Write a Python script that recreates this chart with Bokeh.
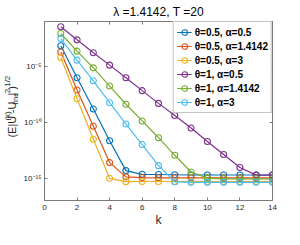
from bokeh.plotting import figure
from bokeh.layouts import row
from bokeh.models import (Label, LinearAxis, LogAxis, FixedTicker, CustomJSTickFormatter,
                          Legend, LegendItem, Range1d, Title)
from bokeh.embed import file_html
from bokeh.resources import INLINE

# ---------------- data ----------------
k = [1, 2, 3, 4, 5, 6, 7, 8, 9, 10, 11, 12, 13, 14]

series_labels = ["θ=0.5, α=0.5", "θ=0.5, α=1.4142", "θ=0.5, α=3",
                 "θ=1, α=0.5", "θ=1, α=1.4142", "θ=1, α=3"]

err_t05_a05 = [6.9e-4, 9.3e-7, 1.5e-9, 2.2e-12, 4.7e-15, 2.2e-15, 2.1e-15,
               2.0e-15, 1.9e-15, 1.9e-15, 1.9e-15, 1.9e-15, 1.9e-15, 1.9e-15]
err_t05_a14 = [1.86e-4, 7.6e-8, 4.3e-11, 2.45e-14, 1.3e-15, 1.12e-15, 1.07e-15,
               1.07e-15, 1.07e-15, 1.07e-15, 1.07e-15, 1.07e-15, 1.07e-15, 1.07e-15]
err_t05_a3 = [6.0e-5, 1.23e-8, 3.0e-12, 9.6e-16, 4.8e-16, 5.0e-16, 5.0e-16,
              5.0e-16, 5.0e-16, 5.0e-16, 5.0e-16, 5.0e-16, 5.0e-16, 5.0e-16]
err_t1_a05 = [3.4e-2, 2.3e-3, 1.6e-4, 1.26e-5, 9.3e-7, 6.6e-8, 4.8e-9,
              4.0e-10, 3.0e-11, 1.9e-12, 1.3e-13, 8.9e-15, 1.86e-15, 1.86e-15]
err_t1_a14 = [8.5e-3, 2.24e-4, 7.2e-6, 1.7e-7, 4.0e-9, 1.29e-10, 4.1e-12,
              1.1e-13, 3.5e-15, 1.0e-15, 8.7e-16, 8.7e-16, 8.7e-16, 8.7e-16]
err_t1_a3 = [2.95e-3, 3.5e-5, 5.0e-7, 5.5e-9, 6.8e-11, 1.0e-12, 1.3e-14,
             4.7e-16, 4.2e-16, 4.2e-16, 4.2e-16, 4.2e-16, 4.2e-16, 4.2e-16]

series_values = [err_t05_a05, err_t05_a14, err_t05_a3, err_t1_a05, err_t1_a14, err_t1_a3]
colors = ["#0072BD", "#D95319", "#EDB120", "#7E2F8E", "#77AC30", "#4DBEEE"]

x_ticks = [0, 2, 4, 6, 8, 10, 12, 14]
y_ticks = [1e-15, 1e-10, 1e-5]

title_text = "λ =1.4142, T =20"
x_label_text = "k"
# y label pieces: (text, font px, position: 0 normal, 1 superscript, -1 subscript)
y_label_parts = [("(E|U", 11, 0), ("(k)", 8, 1), ("-U", 11, 0), ("fine", 7, -1),
                 ("|", 11, 0), ("2", 8, 1), (")", 11, 0), ("1/2", 8, 1)]

FONT = "Liberation Sans"
AX = "#7a7a7a"
TXT = "#262626"

H = 229
LW = 20                      # width of the strip holding the y-axis label
W = 284 - LW
BL, BR, BT, BB = 23, 12, 19, 27
FH = H - BT - BB

# ---------------- main figure ----------------
p = figure(width=W, height=H, x_range=Range1d(0, 14), y_range=Range1d(1e-17, 1e-1),
           y_axis_type="log", output_backend="svg", toolbar_location=None,
           min_border_left=BL, min_border_right=BR, min_border_top=BT, min_border_bottom=BB)
p.grid.visible = False
p.outline_line_color = AX
p.outline_line_width = 1
p.background_fill_color = "white"
p.border_fill_color = "white"

p.title = Title(text=title_text, align="center", text_font=FONT, text_font_size="12px",
                text_font_style="normal", text_color="#000000", standoff=5)

renderers = []
for vals, c in zip(series_values, colors):
    l = p.line(k, vals, line_color=c, line_width=1.2)
    s = p.scatter(k, vals, marker="circle", size=6, fill_color=None, line_color=c, line_width=1.1)
    renderers.append([l, s])

sup_js = """
const m = {"-":"\u207b","0":"\u2070","1":"\u00b9","2":"\u00b2","3":"\u00b3","4":"\u2074",
           "5":"\u2075","6":"\u2076","7":"\u2077","8":"\u2078","9":"\u2079"};
const e = Math.round(Math.log10(tick));
return "10" + String(e).split("").map(c => m[c]).join("");
"""

def style_axis(ax, show_labels):
    ax.axis_line_color = AX
    ax.major_tick_line_color = AX
    ax.minor_tick_line_color = None
    ax.major_tick_in = 3
    ax.major_tick_out = 0
    ax.major_label_text_font = FONT
    ax.major_label_text_font_size = "8px"
    ax.major_label_text_color = TXT
    if not show_labels:
        ax.formatter = CustomJSTickFormatter(code="return '';")
        ax.major_label_standoff = 0
        ax.major_label_text_font_size = "0px"

xa = p.xaxis[0]
xa.ticker = FixedTicker(ticks=x_ticks)
style_axis(xa, True)
xa.major_label_standoff = 4
xa.axis_label = x_label_text
xa.axis_label_text_font = FONT
xa.axis_label_text_font_size = "12px"
xa.axis_label_text_font_style = "normal"
xa.axis_label_text_color = TXT
xa.axis_label_standoff = 0

ya = p.yaxis[0]
ya.ticker = FixedTicker(ticks=y_ticks)
ya.formatter = CustomJSTickFormatter(code=sup_js)
style_axis(ya, True)
ya.major_label_standoff = 3

top = LinearAxis(ticker=FixedTicker(ticks=x_ticks))
style_axis(top, False)
p.add_layout(top, "above")
right = LogAxis(ticker=FixedTicker(ticks=y_ticks))
style_axis(right, False)
p.add_layout(right, "right")

# ---------------- legend ----------------
items = [LegendItem(label=lab, renderers=r) for lab, r in zip(series_labels, renderers)]
leg = Legend(items=items, location="top_right", margin=0, padding=3, spacing=0,
             glyph_width=15, glyph_height=14, label_height=14, label_standoff=3,
             label_text_font=FONT, label_text_font_size="10px", label_text_color="#000000",
             label_text_font_style="bold",
             border_line_color="#8a8a8a", border_line_width=1, background_fill_alpha=1)
p.add_layout(leg, "center")

# ---------------- y-axis label strip ----------------
# its frame covers the whole strip; data units equal pixels (y measured from the top)
q = figure(width=LW, height=H, x_range=Range1d(0, LW), y_range=Range1d(H, 0),
           output_backend="svg", toolbar_location=None,
           x_axis_location=None, y_axis_location=None,
           min_border_left=0, min_border_right=0, min_border_top=0, min_border_bottom=0)
q.grid.visible = False
q.outline_line_color = None
q.background_fill_color = "white"
q.border_fill_color = "white"

adv = {"(": 333, ")": 333, "E": 667, "|": 260, "U": 722, "k": 500, "-": 333, "f": 278,
       "i": 222, "n": 556, "e": 556, "2": 556, "1": 556, "/": 278}
widths = [sum(adv[ch] for ch in t) * fs / 1000.0 for t, fs, _ in y_label_parts]
total = sum(widths)
center = BT + FH / 2.0
pos = center + total / 2.0
mid_x = {0: 11.0, 1: 7.0, -1: 15.0}
for (t, fs, kind), w in zip(y_label_parts, widths):
    q.add_layout(Label(x=mid_x[kind], y=pos, text=t,
                       angle=90, angle_units="deg", text_align="left",
                       text_baseline="middle",
                       text_font=FONT, text_font_size=f"{fs}px", text_color=TXT))
    pos -= w

layout = row(q, p, spacing=0)
open("out.html", "w").write(file_html(layout, INLINE))
